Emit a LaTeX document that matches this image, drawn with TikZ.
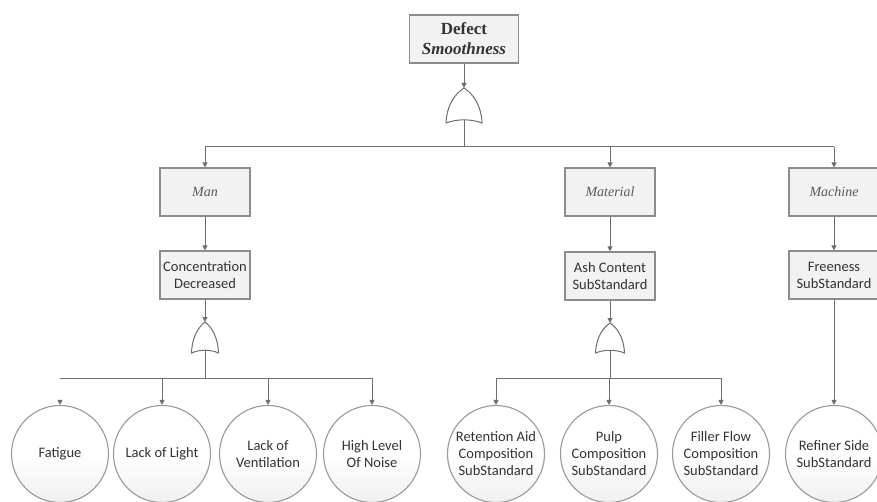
\documentclass[tikz,border=0pt]{standalone}
\usepackage{fontspec}
\setmainfont{Liberation Serif}
\newfontfamily\calibfont{Carlito}
\usetikzlibrary{arrows.meta}
\definecolor{linegray}{HTML}{6E6E6E}
\definecolor{boxgray}{HTML}{8C8C8C}
\definecolor{boxfill}{HTML}{F2F2F2}
\definecolor{circgray}{HTML}{9A9A9A}
\definecolor{textgray}{HTML}{333333}
\tikzset{
  orgate/.pic={
    \path[gate] (-1,0) .. controls (-0.95,-0.55) and (-0.45,-0.85) .. (0,-1)
      .. controls (0.45,-0.85) and (0.95,-0.55) .. (1,0)
      .. controls (0.4,-0.12) and (-0.4,-0.12) .. cycle;
    \coordinate (-in) at (0,-1);
    \coordinate (-out) at (0,-0.09);
  }
}
\begin{document}
\begin{tikzpicture}[x=1pt,y=-1pt,
  wire/.style={draw=linegray, line width=1pt},
  arr/.style={wire, -{Triangle[width=5pt,length=5pt]}},
  gate/.style={draw=linegray, fill=white, line width=1pt},
  eventbox/.style={draw=boxgray, fill=boxfill, line width=1.1pt,
    minimum width=90pt, minimum height=48pt, inner sep=2pt,
    align=center, text=textgray},
  catlabel/.style={font=\fontsize{14}{17}\selectfont\itshape, text=black!65},
  sanslabel/.style={font=\calibfont\fontsize{14.5}{17}\selectfont},
  basic/.style={circle, draw=circgray, line width=1.1pt,
    top color=white, bottom color=black!6, middle color=white,
    minimum size=97pt, inner sep=0pt, align=center, text=textgray,
    font=\calibfont\fontsize{14.5}{17}\selectfont}
]
\useasboundingbox (0,0) rectangle (877,502);

% top event and categories
\node[eventbox, minimum width=109pt, font=\fontsize{17}{20}\selectfont\bfseries]
  (top) at (464,39) {Defect\\\textit{Smoothness}};
\node[eventbox, catlabel] (man)  at (205,192) {Man};
\node[eventbox, catlabel] (mat)  at (610,192) {Material};
\node[eventbox, catlabel] (mach) at (834,192) {Machine};

% intermediate events
\node[eventbox, sanslabel] (conc) at (205,275) {Concentration\\Decreased};
\node[eventbox, sanslabel] (ash)  at (610,276) {Ash Content\\SubStandard};
\node[eventbox, sanslabel] (free) at (834,275) {Freeness\\SubStandard};

% basic events
\node[basic] (fat)   at (60,454)  {Fatigue};
\node[basic] (lol)   at (162,454) {Lack of Light};
\node[basic] (vent)  at (268,454) {Lack of\\Ventilation};
\node[basic] (noise) at (372,454) {High Level\\Of Noise};
\node[basic] (ret)   at (496,454) {Retention Aid\\Composition\\SubStandard};
\node[basic] (pulp)  at (609,454) {Pulp\\Composition\\SubStandard};
\node[basic] (fil)   at (721,454) {Filler Flow\\Composition\\SubStandard};
\node[basic] (ref)   at (834,454) {Refiner Side\\SubStandard};

% gates
\pic[xscale=18, yscale=35] (g0) at (464,123) {orgate};
\pic[xscale=13.5, yscale=31] (g1) at (205,353) {orgate};
\pic[xscale=14.5, yscale=30] (g2) at (610,353) {orgate};

% bus junctions
\coordinate (bus0) at (464,147);
\coordinate (bus1) at (205,378);
\coordinate (bus2) at (610,378);

% top level
\draw[arr] (top.south) -- (g0-in);
\draw[wire] (g0-out) -- (bus0);
\draw[wire] (man.north |- bus0) -- (mach.north |- bus0);
\draw[arr] (man.north |- bus0) -- (man.north);
\draw[arr] (mat.north |- bus0) -- (mat.north);
\draw[arr] (mach.north |- bus0) -- (mach.north);

% man branch
\draw[arr] (man.south) -- (conc.north);
\draw[arr] (conc.south) -- (g1-in);
\draw[wire] (g1-out) -- (bus1);
\draw[wire] (fat.north |- bus1) -- (noise.north |- bus1);
\draw[arr] ([yshift=5pt]fat.north) -- (fat.north);
\draw[arr] (lol.north |- bus1) -- (lol.north);
\draw[arr] (vent.north |- bus1) -- (vent.north);
\draw[arr] (noise.north |- bus1) -- (noise.north);

% material branch
\draw[arr] (mat.south) -- (ash.north);
\draw[arr] (ash.south) -- (g2-in);
\draw[wire] (g2-out) -- (bus2);
\draw[wire] (ret.north |- bus2) -- (fil.north |- bus2);
\draw[arr] (ret.north |- bus2) -- (ret.north);
\draw[arr] (pulp.north |- bus2) -- (pulp.north);
\draw[arr] (fil.north |- bus2) -- (fil.north);

% machine branch
\draw[arr] (mach.south) -- (free.north);
\draw[arr] (free.south) -- (ref.north);
\end{tikzpicture}
\end{document}
